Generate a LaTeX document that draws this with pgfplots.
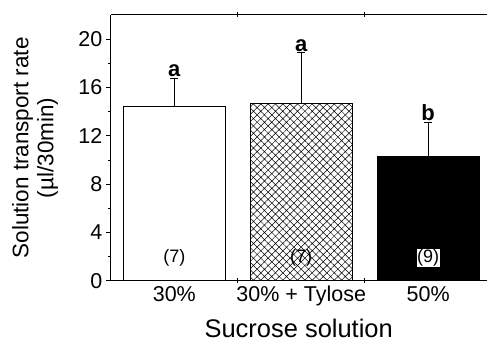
\documentclass[border=0pt]{standalone}
\usepackage{fontspec}
\setmainfont{Liberation Sans}
\usepackage{pgfplots}
\pgfplotsset{compat=1.18}
\usetikzlibrary{patterns.meta}
\begin{document}
\begin{tikzpicture}
\begin{axis}[
  scale only axis, width=376pt, height=266pt,
  xmin=-0.5, xmax=2.46, ymin=0, ymax=22,
  axis x line*=box, axis y line*=left,
  axis line style={line width=1pt},
  /pgf/number format/assume math mode=true,
  ytick={0,4,8,12,16,20}, minor y tick num=1,
  y tick label style={font=\fontsize{21.5}{21.5}\selectfont},
  tick align=outside, major tick length=5pt, minor tick length=3pt,
  tick style={black, line width=0.8pt},
  xtick={0.5,1.5}, xticklabels={},
  x tick style={/pgfplots/tick align=center},
  extra x ticks={0,1,2},
  extra x tick labels={30\%, 30\% + Tylose, 50\%},
  extra x tick style={major tick length=0pt, tick label style={font=\fontsize{21.5}{21.5}\selectfont, yshift=-2pt}},
  xlabel={Sucrose solution},
  xlabel style={font=\fontsize{25.5}{25.5}\selectfont, at={(axis description cs:0.5,0)}, anchor=base, yshift=-57pt},
  ylabel={Solution transport rate\\(µl/30min)},
  ylabel style={font=\fontsize{22.5}{25}\selectfont, align=center, at={(axis description cs:-0.202,0.5)}, anchor=center},
  clip=false,
]
\coordinate (O) at (rel axis cs:0,0);
\addplot[ybar, bar width=0.8, bar shift=0pt, fill=white, draw=black, line width=0.7pt,
  error bars/.cd, y dir=plus, y explicit, error bar style={black, line width=0.7pt},
  error mark options={rotate=90, black, mark size=4pt, line width=0.7pt}]
  coordinates {(0,14.4) +- (0,2.35)};
\addplot[ybar, bar width=0.8, bar shift=0pt, draw=black, line width=0.7pt,
  pattern={Hatch[angle=45, distance=5.2pt, line width=0.5pt]}, pattern color=black,
  error bars/.cd, y dir=plus, y explicit, error bar style={black, line width=0.7pt},
  error mark options={rotate=90, black, mark size=4pt, line width=0.7pt}]
  coordinates {(1,14.7) +- (0,4.2)};
\addplot[ybar, bar width=0.8, bar shift=0pt, fill=black, draw=black, line width=0.7pt,
  error bars/.cd, y dir=plus, y explicit, error bar style={black, line width=0.7pt},
  error mark options={rotate=90, black, mark size=4pt, line width=0.7pt}]
  coordinates {(2,10.3) +- (0,2.85)};
\node[font=\bfseries\fontsize{22}{22}\selectfont, anchor=south, inner sep=1pt] at (axis cs:0,16.75) {a};
\node[font=\bfseries\fontsize{22}{22}\selectfont, anchor=south, inner sep=1pt] at (axis cs:1,18.9) {a};
\node[font=\bfseries\fontsize{22}{22}\selectfont, anchor=south, inner sep=1pt] at (axis cs:2,13.15) {b};
\node[font=\fontsize{18}{18}\selectfont, inner sep=0.5pt] at (axis cs:0,1.9) {(7)};
\node[font=\fontsize{18}{18}\selectfont, inner sep=0.5pt] at (axis cs:1,1.9) {(7)};
\node[font=\fontsize{18}{18}\selectfont, fill=white, inner sep=0.5pt] at (axis cs:2,1.9) {(9)};
\end{axis}
\path (O) ++(-111pt,-62pt) rectangle ++(487pt,343pt);
\end{tikzpicture}
\end{document}
